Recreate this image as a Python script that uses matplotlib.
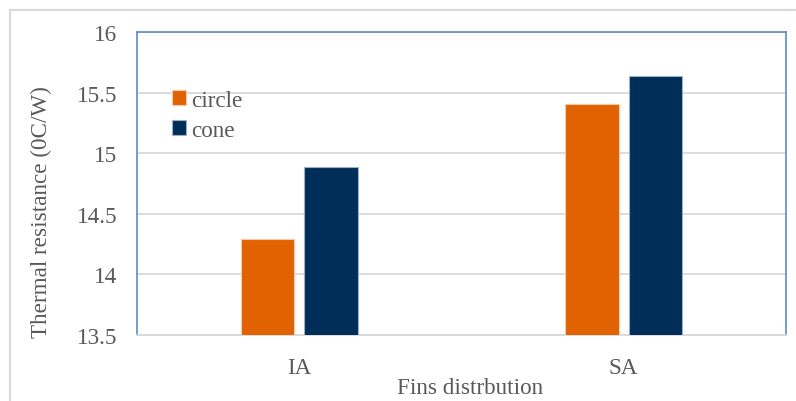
import numpy as np
import matplotlib.pyplot as plt
from matplotlib.lines import Line2D

# --- Data ---
categories = ['IA', 'SA']
circle = [14.29, 15.41]
cone = [14.89, 15.64]
series_names = ['circle', 'cone']

ORANGE = '#E06200'
NAVY = '#002E58'
TEXT = '#595959'
GRID = '#D9D9D9'
FRAME = '#5B8BCB'
FS = 16.7

plt.rcParams['font.family'] = ['Liberation Serif', 'DejaVu Serif']

W, H = 796, 402
fig = plt.figure(figsize=(W / 100, H / 100), dpi=100)
fig.patch.set_facecolor('white')

# plot area in pixel coordinates
left, right, top, bottom = 137, 786, 33, 336
ax = fig.add_axes([left / W, 1 - bottom / H, (right - left) / W, (bottom - top) / H])

x = np.arange(len(categories))
bw = 0.165
gap = 0.031
off = (bw + gap) / 2
ax.bar(x - off, circle, bw, color=ORANGE, edgecolor='#F5C8A8',
       linewidth=0.8, label=series_names[0], zorder=3)
ax.bar(x + off, cone, bw, color=NAVY, edgecolor='#9FB0C4',
       linewidth=0.8, label=series_names[1], zorder=3)

ax.set_xlim(-0.5, 1.5)
ax.set_ylim(13.5, 16)
ax.set_yticks(np.arange(13.5, 16.01, 0.5))
ax.set_yticklabels(['13.5', '14', '14.5', '15', '15.5', '16'])
ax.set_xticks(x)
ax.set_xticklabels(categories)
ax.tick_params(axis='both', length=0, labelsize=FS, colors=TEXT)
ax.tick_params(axis='y', pad=14)
ax.tick_params(axis='x', pad=16)
ax.yaxis.grid(True, color=GRID, linewidth=1.3, zorder=0)
ax.set_axisbelow(True)

for side in ['left', 'top', 'right']:
    ax.spines[side].set_color(FRAME)
    ax.spines[side].set_linewidth(1.2)
ax.spines['bottom'].set_color(GRID)
ax.spines['bottom'].set_linewidth(1.3)

ax.set_ylabel('Thermal resistance (0C/W)', fontsize=FS, color=TEXT)
ax.yaxis.set_label_coords(-(left - 41) / (right - left), (bottom - 212) / (bottom - top))
ax.set_xlabel('Fins distrbution', fontsize=FS, color=TEXT)
ax.xaxis.set_label_coords((470 - left) / (right - left), -(389 - bottom) / (bottom - top))
ax.xaxis.label.set_va('center')
ax.yaxis.label.set_va('center')

leg = ax.legend(loc='upper left', bbox_to_anchor=(0.04, 0.84), frameon=False,
                fontsize=FS, handlelength=0.6, handleheight=0.6,
                handletextpad=0.2, labelspacing=0.4, borderaxespad=0)
for t in leg.get_texts():
    t.set_color(TEXT)

# outer chart border
fig.add_artist(Line2D([10 / W, 1], [1 - 11 / H] * 2, color='#D9D9D9', lw=1.5))
fig.add_artist(Line2D([10 / W] * 2, [0, 1 - 11 / H], color='#D9D9D9', lw=1.5))

fig.savefig('out.png', dpi=100)
